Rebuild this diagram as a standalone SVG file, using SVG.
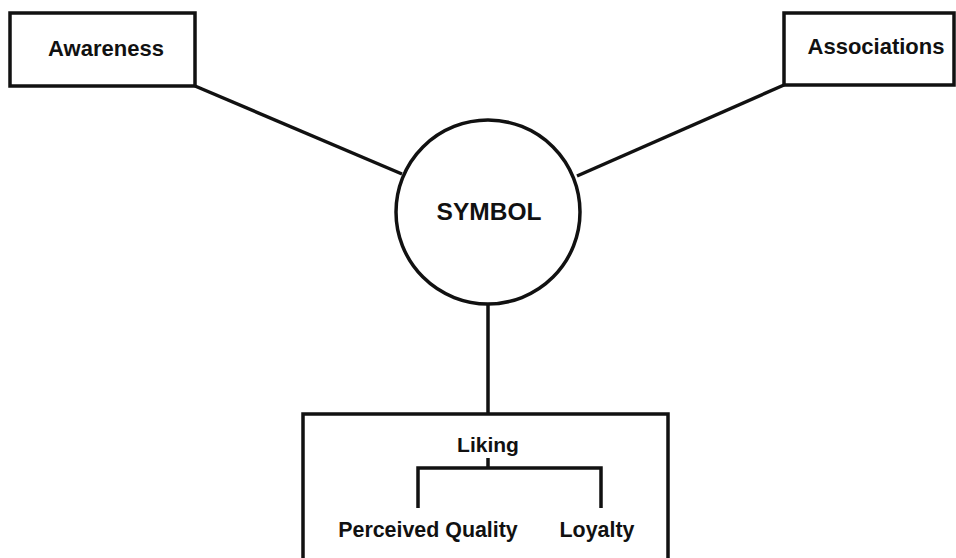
<svg xmlns="http://www.w3.org/2000/svg" width="956" height="558" viewBox="0 0 956 558">
<style>
.box{fill:#fff;stroke:#111;stroke-width:3.5}
.ln{fill:none;stroke:#111;stroke-width:3.5}
.t{font-family:"Liberation Sans",Arial,sans-serif;font-weight:bold;fill:#111;text-anchor:middle}
</style>
<rect width="956" height="558" fill="#fff"/>
<g id="connectors">
<line class="ln" x1="195" y1="86" x2="402" y2="174"/>
<line class="ln" x1="784" y1="85" x2="577" y2="176"/>
<line class="ln" x1="488" y1="304" x2="488" y2="414"/>
</g>
<g id="awareness">
<rect class="box" x="10" y="13" width="185" height="73"/>
<text class="t" x="106" y="56" font-size="22">Awareness</text>
</g>
<g id="associations">
<rect class="box" x="784" y="13" width="170" height="72"/>
<text class="t" x="876" y="54" font-size="22">Associations</text>
</g>
<g id="symbol">
<circle class="box" cx="488" cy="212" r="92"/>
<text class="t" x="489" y="220" font-size="24.5">SYMBOL</text>
</g>
<g id="liking">
<rect class="box" x="303" y="414" width="365" height="160"/>
<text class="t" x="488" y="452" font-size="21">Liking</text>
<path class="ln" d="M488 458 V468 M418 508 V468 H601 V508"/>
<text class="t" x="428" y="537" font-size="21.4">Perceived Quality</text>
<text class="t" x="597" y="537" font-size="21.4">Loyalty</text>
</g>
</svg>
